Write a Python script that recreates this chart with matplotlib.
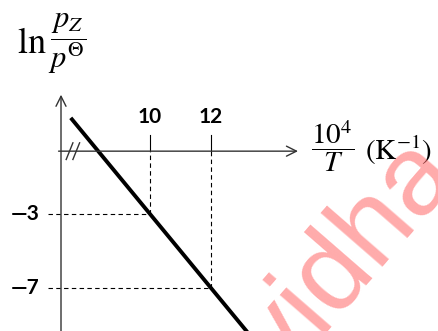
import matplotlib.pyplot as plt

plt.rcParams['mathtext.fontset'] = 'stix'

# data
line_x = [7.4, 10, 12, 13.2]
line_y = [2.2, -3, -7, -9.4]
mark_x = [10, 12]
mark_y = [-3, -7]
x_ticklabels = ['10', '12']
y_ticklabels = ['\u20143', '\u20147']

x0, y0 = 7.08, 0.4  # where the drawn axes cross (schematic, broken axis)

W, H = 438, 331
fig = plt.figure(figsize=(W / 100, H / 100), dpi=100)
ax = fig.add_axes([0, 0, 1, 1])
ax.set_xlim(5.08, 19.44)
ax.set_ylim(-9.32, 8.57)
ax.axis('off')


def px(x, y):
    # pixel position (from top-left) -> axes fraction, for the free texts
    return x / W, 1 - y / H


# axes with open arrow heads
ax.annotate('', xy=(x0, 3.45), xytext=(x0, -9.4),
            arrowprops=dict(arrowstyle='->', color='#333333', lw=1.0,
                            mutation_scale=18, shrinkA=0, shrinkB=0))
ax.annotate('', xy=(14.85, y0), xytext=(7.0, y0),
            arrowprops=dict(arrowstyle='->', color='#333333', lw=1.0,
                            mutation_scale=18, shrinkA=0, shrinkB=0))

# break marks on the x axis
for bx in [7.36, 7.58]:
    ax.plot([bx - 0.11, bx + 0.11], [y0 - 0.45, y0 + 0.45], color='#333333', lw=1.0)

# main line
ax.plot(line_x, line_y, color='black', lw=2.8, solid_capstyle='butt')

# guide lines
for mx, my in zip(mark_x, mark_y):
    ax.plot([mx, mx], [my, y0], color='black', lw=0.8, ls=(0, (4, 3)))
    ax.plot([mx, mx], [y0, y0 + 0.85], color='black', lw=0.8)
    ax.plot([6.66, mx], [my, my], color='black', lw=0.8, ls=(0, (4, 3)))

for mx, lab in zip(mark_x, x_ticklabels):
    ax.text(mx, 1.92, lab, ha='center', va='baseline', fontsize=15,
            fontweight='bold', family='Lato')
for my, lab in zip(mark_y, y_ticklabels):
    ax.text(6.39, my, lab, ha='right', va='center', fontsize=15,
            fontweight='bold', family='Lato')

# axis titles
ax.text(*px(17, 53), r'$\ln$', ha='left', va='baseline', fontsize=26,
        transform=ax.transAxes)
ax.text(*px(48, 43), r'$\dfrac{p_Z}{p^{\Theta}}$', ha='left', va='center',
        fontsize=22, transform=ax.transAxes)
ax.text(*px(311, 146), r'$\dfrac{10^4}{T}$', ha='left', va='center',
        fontsize=21, transform=ax.transAxes)
ax.text(*px(365, 150), r'$(\mathrm{K}^{-1})$', ha='left', va='center',
        fontsize=21, transform=ax.transAxes)

# watermark
ax.text(*px(350, 260), 'vidha', rotation=49, rotation_mode='anchor',
        ha='center', va='center', fontsize=82, color='#ff6666', alpha=0.55,
        family='Liberation Sans', transform=ax.transAxes, zorder=5)

fig.savefig('out.png', dpi=100)
